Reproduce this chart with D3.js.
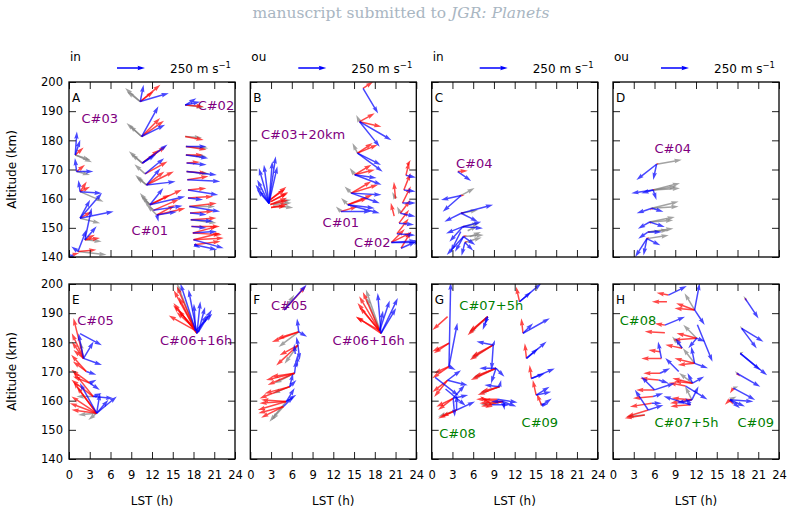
<!DOCTYPE html>
<html>
<head>
<meta charset="utf-8">
<script src="https://cdn.jsdelivr.net/npm/d3@7"></script>
<style>
  body { margin: 0; background: #fff; }
  text { font-family: "DejaVu Sans", sans-serif; }
</style>
</head>
<body>
<svg id="vis" width="792" height="515"></svg>
<script>
// ---- data (LST h, altitude km, {colour: [[u, v] m/s ...]}) ----
const lstTicks = [0, 3, 6, 9, 12, 15, 18, 21, 24];
const altTicks = [140, 150, 160, 170, 180, 190, 200];
const panelLetters = ["A", "B", "C", "D", "E", "F", "G", "H"];
const modes = ["in", "ou", "in", "ou"];
const keySpeed = 250;

// case labels: [panel, text, lst, alt, colour]
const caseLabels = [
  [0, "C#03", 1.8, 185.8, "purple"], [0, "C#02", 18.6, 190.4, "purple"], [0, "C#01", 9.05, 147.5, "purple"],
  [1, "C#03+20km", 1.55, 180.5, "purple"], [1, "C#01", 10.45, 150.4, "purple"], [1, "C#02", 15.0, 143.5, "purple"],
  [2, "C#04", 3.5, 170.5, "purple"],
  [3, "C#04", 6.0, 175.7, "purple"],
  [4, "C#05", 1.2, 185.9, "purple"], [4, "C#06+16h", 13.15, 179.1, "purple"],
  [5, "C#05", 3.0, 191.1, "purple"], [5, "C#06+16h", 11.9, 179.1, "purple"],
  [6, "C#07+5h", 4.0, 191.1, "green"], [6, "C#08", 1.1, 147.3, "green"], [6, "C#09", 13.0, 151.1, "green"],
  [7, "C#08", 0.97, 185.9, "green"], [7, "C#07+5h", 6.0, 151.1, "green"], [7, "C#09", 18.0, 151.1, "green"]
];

const panelA = [
  [0.9, 175, {b: [[15, 210], [45, 135]], r: [[75, 66]], g: [[150, -66], [135, -45]]}],
  [1.1, 169.3, {b: [[150, 0], [-15, 120]], r: [[75, 60]], g: [[120, -30]]}],
  [1.6, 162.4, {b: [[195, -15], [-15, 105]], r: [[60, 90], [90, 45]], g: [[210, -90]]}],
  [1.6, 153.3, {b: [[300, 60], [195, 225], [90, 165]], r: [[105, 60]], g: [[180, -45]]}],
  [2.3, 145.9, {b: [[60, 285], [105, 120]], r: [[90, 45], [135, 15]], g: [[150, -15]]}],
  [1.3, 141.9, {b: [[75, 195], [-60, 45]], r: [[165, 15]], g: [[255, -30]]}],
  [0.5, 140.8, {b: [[-30, -60]], r: [[60, 15]]}],
  [10.3, 193.3, {g: [[-135, 120], [-120, 90]], r: [[180, 150], [120, 90]], b: [[255, 75], [30, 150]]}],
  [10.5, 181.3, {g: [[-135, 120], [-110, 100]], r: [[165, 165], [200, 140]], b: [[150, 270], [210, 105]]}],
  [10.6, 172.2, {g: [[-120, 105], [-100, 80]], r: [[210, 150], [150, 120]], b: [[225, 165], [120, 75]]}],
  [11.2, 164.7, {g: [[-100, 90], [-90, 70]], r: [[245, 120], [160, 120]], b: [[125, 150], [260, 30]]}],
  [11.7, 157.9, {g: [[-90, 105], [-80, 80]], r: [[285, 135], [180, 90]], b: [[315, 75], [120, 150]]}],
  [12.7, 154.4, {g: [[-90, 90]], r: [[255, 60], [165, 90]], b: [[180, 30], [15, -60]]}],
  [11.0, 168.5, {g: [[-95, 85]], r: [[200, 110]], b: [[170, 140]]}],
  [12.2, 156, {g: [[-85, 95]], r: [[230, 100]], b: [[260, 40]]}],
  [16.8, 192.1, {r: [[165, -15]], b: [[135, 30], [100, 60]], g: [[170, -20]]}],
  [16.8, 181.3, {r: [[165, -30]], g: [[150, -10]]}],
  [16.9, 177.9, {b: [[185, 0]], r: [[185, -30]], g: [[200, -15]]}],
  [16.9, 175, {r: [[155, 0]], b: [[200, -30]], g: [[185, -15]]}],
  [17.0, 172.2, {b: [[180, -15]], r: [[120, 10]]}],
  [17.0, 169.3, {r: [[180, -15]], b: [[270, -30]], g: [[200, -20]]}],
  [17.1, 166.5, {b: [[295, -15]], r: [[190, 30]]}],
  [17.2, 163, {r: [[165, 15]], b: [[270, -45]]}],
  [17.2, 160.2, {r: [[225, 15]], b: [[135, -15]]}],
  [17.4, 157.3, {r: [[245, 30]], b: [[275, -45]], g: [[230, 0]]}],
  [17.5, 155.1, {r: [[210, 15]], b: [[150, -15]]}],
  [17.6, 152.8, {r: [[230, 15]], b: [[200, -15]], g: [[230, -30]]}],
  [17.7, 150.5, {r: [[255, 0]], b: [[135, -15]]}],
  [17.9, 148.2, {r: [[260, -15], [220, 60]], b: [[215, 15]]}],
  [18.0, 145.9, {r: [[270, 15], [240, 60]], b: [[270, -75]]}],
  [18.1, 144.2, {r: [[235, 30]], b: [[205, -45], [55, -30]]}]
];

const panelB = [
  [2.7, 158.4, {b: [[60, 420], [30, 375], [75, 330], [-45, 345], [-90, 315], [-105, 210], [-120, 165], [-105, 120]]}],
  [2.8, 159.5, {r: [[150, 120], [140, 100]]}],
  [2.8, 158.8, {r: [[165, 90]]}],
  [2.9, 158, {r: [[150, 60], [160, 40]]}],
  [3.0, 157, {r: [[135, 10], [150, 30]]}],
  [3.0, 159, {r: [[150, 75]]}],
  [3.3, 158, {g: [[165, 15]]}],
  [3.3, 157.5, {g: [[180, -15]]}],
  [3.5, 158.5, {g: [[150, 30]]}],
  [16.3, 197.8, {b: [[135, -225]], r: [[90, 60]]}],
  [15.8, 186.4, {r: [[195, -45], [135, 75]], b: [[285, -165], [180, -225]], g: [[-30, 60]]}],
  [15.5, 175.6, {r: [[180, 75], [135, 90]], b: [[210, -105], [225, -165]], g: [[-45, 90]]}],
  [15.1, 168.2, {r: [[180, 45], [150, 90]], b: [[240, -90], [195, -30]], g: [[-45, 60]]}],
  [14.6, 161.9, {r: [[240, 75], [180, 105]], b: [[270, -15], [255, -90]], g: [[-60, 60]]}],
  [14.1, 157.9, {r: [[180, 60], [220, 90]], b: [[285, -75], [240, -30]], g: [[-60, 60]]}],
  [13.1, 155.6, {r: [[150, 45]], b: [[270, 0]], g: [[-45, 45]]}],
  [21.8, 143, {r: [[90, 150]], b: [[135, 60]]}],
  [20.4, 145, {b: [[225, 15], [270, 0]], r: [[120, 120], [180, 90]]}],
  [21.2, 148, {r: [[105, 135]], b: [[165, -15]]}],
  [21.5, 151.6, {r: [[90, 120]], b: [[135, -15]]}],
  [21.7, 155, {r: [[90, 120]], b: [[135, -30]], g: [[-30, 60]]}],
  [22.0, 158.5, {r: [[75, 150]], b: [[120, 0]]}],
  [22.2, 163, {r: [[60, 150]], b: [[105, -15]]}],
  [22.5, 168, {r: [[30, 120]], b: [[90, -20]]}],
  [22.7, 171.5, {r: [[30, 45]]}],
  [21.0, 160, {r: [[-15, 150]], g: [[-30, 60]]}],
  [20.8, 154, {r: [[-30, 120]]}]
];

const panelC = [
  [3.77, 169.3, {r: [[90, 6]], b: [[120, -85]]}],
  [4.26, 161.1, {r: [[30, 0], [-20, 5]], g: [[120, 66]], b: [[-180, -40], [-165, -145]]}],
  [4.26, 155, {r: [[40, 10]], b: [[285, 75], [-150, -75], [150, -75]], g: [[150, 30]]}],
  [4.5, 150.4, {r: [[30, 5]], b: [[-150, -60], [165, 45], [-120, -135], [180, -15]], g: [[150, 30]]}],
  [4.6, 147, {b: [[-150, -165], [-75, -135], [105, -75]], g: [[180, 15]], r: [[30, 10]]}],
  [4.8, 145, {b: [[-30, -120], [75, -75]], g: [[150, 45]], r: [[25, 10]]}],
  [4.2, 148.7, {b: [[-90, -180]]}],
  [5.2, 149, {g: [[90, 45]]}],
  [5.5, 147, {g: [[100, 40]]}]
];

const panelD = [
  [6.3, 171.8, {g: [[225, 40]], b: [[-180, -140], [-30, -140]], r: [[20, 10]]}],
  [5.8, 163, {g: [[240, 60], [240, 15], [210, 30]], b: [[-195, -30], [-105, -30], [30, -90]], r: [[15, 10], [-10, -10]]}],
  [5.6, 156.7, {g: [[240, 60], [240, 15]], b: [[-135, -45], [105, -30]], r: [[10, -15], [-15, -20]]}],
  [5.3, 152, {g: [[225, 45], [210, 15]], b: [[-105, -60], [135, -45]], r: [[10, 0], [10, -20]]}],
  [5.1, 148.6, {g: [[225, 30], [180, 15]], b: [[-90, -60], [120, 0]], r: [[10, 5], [15, -10]]}],
  [4.9, 146.3, {b: [[-105, -165], [-30, -150], [120, -60]], g: [[195, 30]], r: [[-10, 10], [20, 15]]}]
];

const panelE = [
  [18.5, 183.1, {r: [[-180, 420], [-210, 270], [-165, 210]], b: [[30, 285], [90, 165], [-75, 390]]}],
  [18.3, 184, {r: [[-195, 360], [-240, 135], [-150, 300]], b: [[-15, 240], [150, 150], [-135, 420]], g: [[-165, 420]]}],
  [18.7, 183.5, {r: [[-195, 180], [-225, 240]], b: [[60, 225], [120, 200]]}],
  [2.1, 174.5, {r: [[-90, 360], [-105, 225], [-105, 150], [-90, 75]], b: [[165, -60], [90, 150], [-45, 225]], g: [[-30, 150]]}],
  [1.6, 183, {b: [[195, -105]]}],
  [4.0, 155.7, {r: [[-240, 90], [-225, 150], [-225, 30], [-210, 285], [-180, 240]], b: [[180, 150], [105, 120], [30, 180], [-150, 270]], g: [[-75, -60], [-165, -15]]}],
  [3.5, 161.4, {r: [[-195, 150], [-180, 225]], b: [[180, -15], [75, 30]], g: [[-150, 0]]}],
  [3.0, 166, {r: [[-165, 120], [-150, 60]], b: [[60, 30], [90, -60]]}],
  [2.5, 170, {r: [[-120, 90], [-135, 150]], b: [[90, -30]]}]
];

const panelF = [
  [18.9, 183.1, {r: [[-195, 330], [-210, 270], [-225, 150]], b: [[-30, 360], [150, 315], [135, 225]], g: [[-135, 390]]}],
  [18.7, 184, {r: [[-210, 120], [-150, 345], [-180, 210]], b: [[30, 180], [90, 270]], g: [[-120, 300]]}],
  [4.9, 191.1, {r: [[195, 215]], b: [[200, 225]], g: [[90, 135]]}],
  [7.0, 183.6, {r: [[-240, -90], [-195, -60]], b: [[-15, 120], [75, -45]], g: [[-180, -135]]}],
  [6.9, 179, {r: [[-195, -180], [-165, -90]], b: [[-15, 75], [15, -135]], g: [[-120, -165]]}],
  [6.4, 169.4, {r: [[-255, -60], [-240, -105], [-210, -30]], b: [[15, 120]], g: [[-180, -90]]}],
  [5.7, 164.8, {r: [[-270, -105], [-225, -60]], b: [[60, 60], [30, 120]], g: [[-150, -60]]}],
  [5.2, 159.7, {r: [[-255, -75], [-240, -15], [-225, 15]], b: [[75, 120], [90, 60]], g: [[-150, -180]]}],
  [4.8, 158, {r: [[-225, -60], [-200, -100]], b: [[90, 90]], g: [[-105, -120]]}],
  [6.5, 176, {b: [[-10, 90]]}],
  [6.8, 172, {b: [[0, 100]]}]
];

const panelG = [
  [2.3, 188.8, {r: [[-135, -120]]}],
  [2.5, 179.7, {r: [[-150, -75], [-135, -90]]}],
  [2.5, 171.7, {r: [[-150, -105], [-135, -60]], b: [[15, 750], [75, 390], [60, -30]]}],
  [2.3, 167, {r: [[-135, -105], [-120, -150]], b: [[180, -45], [120, 90]]}],
  [3.1, 160.8, {r: [[-150, -75], [-135, -105]], b: [[135, 30], [105, 120], [15, -165]]}],
  [3.6, 156.8, {r: [[-165, -75], [-135, -60]], b: [[165, 75], [0, 135]], g: [[-165, -60]]}],
  [2.0, 164, {b: [[180, -150]]}],
  [0.5, 168, {b: [[210, -165]]}],
  [8.1, 188.8, {r: [[-180, -165], [-165, -135]], b: [[-45, -120], [-30, -75]], g: [[-170, -150]]}],
  [8.9, 179.1, {r: [[-210, -135], [-195, -105]], b: [[-150, 30], [15, 45], [-15, -225]], g: [[-200, -120]]}],
  [9.3, 171.1, {r: [[-225, -105], [-195, -75]], b: [[-45, -135], [75, -75], [-150, 0]], g: [[-210, -90]]}],
  [9.8, 164.8, {r: [[-195, -75], [-165, -45]], b: [[-135, 15], [15, 60]], g: [[-180, -60]]}],
  [10.3, 159.7, {r: [[-210, -15], [-180, 15], [-195, -45]], b: [[120, -45], [15, -75], [-105, 0]], g: [[-200, -30]]}],
  [8.7, 158.6, {r: [[-105, 75], [-60, -30]], b: [[165, 0]]}],
  [9.5, 160.5, {r: [[-190, 0]], b: [[180, -30]]}],
  [12.7, 193.9, {r: [[-30, 135]], b: [[105, 90], [195, 165]]}],
  [13.2, 183.1, {r: [[-15, 135]], b: [[240, 135], [90, 90]]}],
  [13.7, 174.5, {r: [[-15, 135]], b: [[180, 150], [105, 90]]}],
  [14.4, 167.6, {r: [[-15, 120]], b: [[210, 90], [120, 45]]}],
  [15.1, 161.9, {r: [[-30, 135]], b: [[120, 75], [135, 30]]}],
  [15.9, 158.4, {r: [[-45, 105]], b: [[90, 60], [60, 15]], g: [[-15, 30]]}]
];

const panelH = [
  [8.0, 196.2, {r: [[-105, 20]], b: [[165, 80]]}],
  [7.8, 193.9, {r: [[-135, 0]]}],
  [7.5, 185.9, {r: [[-90, 15]], b: [[180, 75]]}],
  [7.5, 183.3, {r: [[-180, 10]]}],
  [6.8, 176.8, {r: [[-105, 15]]}],
  [7.0, 174.5, {r: [[-180, 0]], b: [[-30, 150]]}],
  [6.8, 169.4, {r: [[-150, 0]], b: [[90, 45]]}],
  [6.6, 167.1, {r: [[-165, 15]], b: [[90, -30]]}],
  [6.0, 163.7, {r: [[-165, 0]], b: [[-120, 120], [180, 60]]}],
  [5.8, 161.4, {r: [[-180, -15]], b: [[90, 30]]}],
  [5.6, 159.1, {r: [[-195, -30]], b: [[90, 0]]}],
  [5.1, 156.8, {r: [[-195, -60]], b: [[135, 45], [-120, 180]]}],
  [4.6, 155.1, {r: [[-180, -30]], g: [[-165, -15]]}],
  [11.8, 191.1, {r: [[-165, 60], [-180, 15]], g: [[-90, 150]], b: [[90, -135], [45, 240]]}],
  [12.1, 181.4, {r: [[-180, 45], [-210, -15]], g: [[-120, 120]], b: [[75, -30], [-75, -90]]}],
  [11.8, 172.8, {r: [[-180, 45], [-150, -15]], g: [[-105, 135]], b: [[120, -45], [-30, 150]]}],
  [11.5, 166, {r: [[-180, 45], [-165, 15]], g: [[-120, 90]], b: [[105, 60], [-45, 90]]}],
  [11.4, 160.3, {r: [[-180, 15], [-195, -30]], g: [[-60, 120]], b: [[60, 120], [-135, -30]]}],
  [11.2, 158.6, {r: [[-180, -15]], b: [[-240, 75], [-45, 60]]}],
  [12.2, 186, {b: [[135, -330]]}],
  [10.0, 178, {r: [[-150, 30]], b: [[-60, 90]], g: [[-90, 105]]}],
  [10.5, 165, {b: [[195, -120]], r: [[-150, 30]]}],
  [9.5, 170, {b: [[-120, 120]]}],
  [19.1, 195.1, {r: [[15, -30]], b: [[120, -180]], g: [[-15, 20]]}],
  [18.6, 184.8, {r: [[15, -15]], b: [[195, -120], [135, -180]], g: [[-15, 20]]}],
  [18.4, 176.2, {r: [[15, -15]], b: [[240, -195], [180, -150]], g: [[30, 15]]}],
  [17.9, 169.4, {r: [[30, -30]], b: [[210, -120]], g: [[-15, 20]]}],
  [17.4, 164.3, {r: [[-30, -45]], b: [[195, -105]], g: [[45, 15]]}],
  [16.9, 160.3, {r: [[-45, -45], [30, -45]], b: [[210, -15], [135, -60], [90, -75]], g: [[60, 30]]}]
];

const panels = [panelA, panelB, panelC, panelD, panelE, panelF, panelG, panelH];

// ---- layout ----
const boxW = 166, boxH = 175;
const lefts = [69, 250.3, 431.7, 613];
const tops = [82, 284];
const pxPerSpeed = 28 / keySpeed;
const colours = {g: "rgb(128,128,128)", r: "rgb(255,0,0)", b: "rgb(0,0,255)"};

const svg = d3.select("#vis");

svg.append("text")
  .attr("x", 401).attr("y", 18)
  .attr("text-anchor", "middle")
  .attr("fill", "#a9b6c2")
  .style("font-family", "'DejaVu Serif', serif")
  .style("font-size", "15.5px")
  .html("manuscript submitted to <tspan font-style='italic'>JGR: Planets</tspan>");

function arrowPoints(L) {
  const w = 1.5, hw = 3 * w, hl = 5 * w, ha = 4.5 * w;
  let s = 1, len = L;
  if (L < hl) { s = L / hl; len = hl; }
  const pts = [[0, -w / 2], [len - ha, -w / 2], [len - hl, -hw / 2], [len, 0],
               [len - hl, hw / 2], [len - ha, w / 2], [0, w / 2]];
  return pts.map(p => [p[0] * s, p[1] * s].join(",")).join(" ");
}

function drawArrow(g, x0, y0, dx, dy, colour, op) {
  const L = Math.hypot(dx, dy);
  const ang = Math.atan2(dy, dx) * 180 / Math.PI;
  g.append("polygon")
    .attr("points", arrowPoints(L))
    .attr("transform", `translate(${x0},${y0}) rotate(${ang})`)
    .attr("fill", colour)
    .attr("fill-opacity", op);
}

panels.forEach((data, i) => {
  const col = i % 4, row = Math.floor(i / 4);
  const left = lefts[col], top = tops[row];
  const x = d3.scaleLinear().domain([0, 24]).range([left, left + boxW]);
  const y = d3.scaleLinear().domain([140, 200]).range([top + boxH, top]);

  const g = svg.append("g");

  svg.append("clipPath").attr("id", "clip" + i)
    .append("rect").attr("x", left).attr("y", top).attr("width", boxW).attr("height", boxH);

  // case labels under arrows
  caseLabels.filter(d => d[0] === i).forEach(d => {
    g.append("text")
      .attr("x", x(d[2])).attr("y", y(d[3]))
      .attr("fill", d[4])
      .style("font-size", "13px")
      .text(d[1]);
  });

  const arrows = g.append("g").attr("clip-path", `url(#clip${i})`);
  ["g", "r", "b"].forEach(c => {
    data.forEach(t => {
      (t[2][c] || []).forEach(v => {
        drawArrow(arrows, x(t[0]), y(t[1]), v[0] * pxPerSpeed, -v[1] * pxPerSpeed, colours[c], 0.72);
      });
    });
  });

  // axes with inward ticks on all sides
  const axB = d3.axisBottom(x).tickValues(lstTicks).tickSize(-7).tickPadding(12)
    .tickFormat(row === 1 ? d3.format("d") : "");
  const axT = d3.axisTop(x).tickValues(lstTicks).tickSize(-7).tickFormat("");
  const axL = d3.axisLeft(y).tickValues(altTicks).tickSize(-7).tickPadding(6)
    .tickFormat(col === 0 ? d3.format("d") : "");
  const axR = d3.axisRight(y).tickValues(altTicks).tickSize(-7).tickFormat("");

  [[axB, `translate(0,${top + boxH})`], [axT, `translate(0,${top})`],
   [axL, `translate(${left},0)`], [axR, `translate(${left + boxW},0)`]].forEach(a => {
    const ag = g.append("g").attr("transform", a[1]).call(a[0]);
    ag.select(".domain").remove();
    ag.selectAll("line").attr("stroke", "#222").attr("stroke-width", 1);
    ag.selectAll("text").style("font-size", "11.5px").style("font-family", "'DejaVu Sans', sans-serif").attr("fill", "#000");
  });

  g.append("rect")
    .attr("x", left).attr("y", top).attr("width", boxW).attr("height", boxH)
    .attr("fill", "none").attr("stroke", "#000").attr("stroke-width", 1.3);

  g.append("text")
    .attr("x", left + 3).attr("y", top + 19.5)
    .style("font-size", "12px")
    .text(panelLetters[i]);

  if (row === 0) {
    g.append("text").attr("x", left + 1).attr("y", top - 21)
      .style("font-size", "12px").text(modes[col]);
    drawArrow(g, left + 48, top - 14, keySpeed * pxPerSpeed, 0, "rgb(0,0,255)", 1);
    g.append("text").attr("x", left + 101).attr("y", top - 9.5)
      .style("font-size", "12px")
      .html("250 m s<tspan font-size='8.5px' dy='-5'>\u22121</tspan>");
  } else {
    g.append("text")
      .attr("x", left + boxW / 2).attr("y", top + boxH + 46)
      .attr("text-anchor", "middle")
      .style("font-size", "12px")
      .text("LST (h)");
  }

  if (col === 0) {
    g.append("text")
      .attr("transform", `translate(16,${top + boxH / 2}) rotate(-90)`)
      .attr("text-anchor", "middle")
      .style("font-size", "12px")
      .text("Altitude (km)");
  }
});
</script>
</body>
</html>
